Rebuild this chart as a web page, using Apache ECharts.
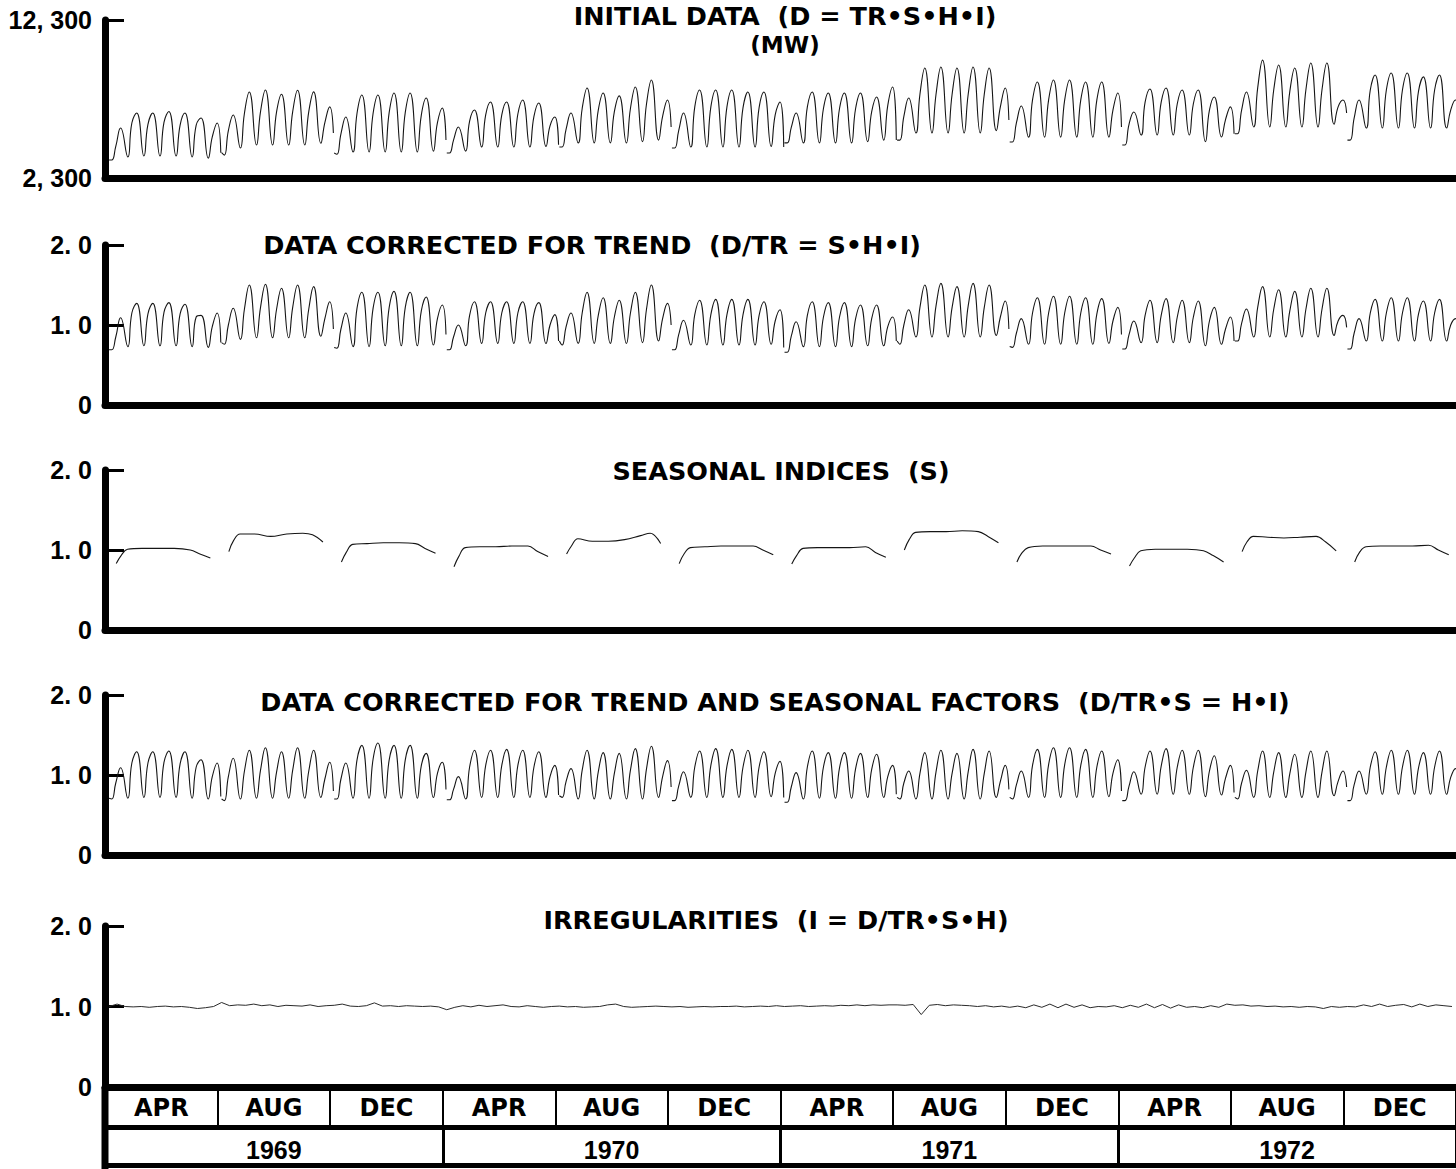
<!DOCTYPE html>
<html>
<head>
<meta charset="utf-8">
<script src="https://cdn.jsdelivr.net/npm/echarts@6/dist/echarts.min.js"></script>
<style>
  html, body { margin: 0; padding: 0; background: #fff; }
  #chart { width: 1456px; height: 1169px; }
</style>
</head>
<body>
<div id="chart"></div>
<script>
// ---- Sample weeks: one week of load per four-month period, 1969-1972 ----
// Each row is one week: [start, then (night low, midday level, evening peak) x 7 days, end]

// Initial data D, MW
const initialData = [
  [3440, 3440,4300,5460, 3630,5780,6410, 3690,5700,6410, 3690,5830,6510, 3690,5650,6410, 3630,5650,6100, 3560,4900,5780, 3900],
  [3900, 3750,5300,6290, 4200,6400,7740, 4390,6500,7870, 4390,6500,7600, 4390,6500,7850, 4390,6500,7750, 4500,5800,6800, 5150],
  [3880, 3800,5100,6160, 3950,6400,7550, 3950,6400,7550, 3950,6450,7680, 3950,6450,7680, 3950,6300,7360, 4000,5800,6730, 4700],
  [3880, 3880,4700,5530, 4000,5900,6600, 4260,6300,7110, 4260,6300,7110, 4260,6350,7240, 4260,6200,7050, 4300,5600,6160, 4400],
  [4260, 4260,5400,6410, 4520,6700,8000, 4520,6600,7680, 4520,6500,7500, 4520,6700,8060, 4600,7000,8500, 4700,6200,7240, 5530],
  [4200, 4200,5300,6410, 4260,6800,7870, 4260,6800,7870, 4260,6800,7870, 4260,6750,7740, 4260,6750,7740, 4300,6300,7110, 4260],
  [4520, 4520,5500,6410, 4520,6800,7740, 4520,6700,7680, 4520,6700,7680, 4520,6700,7680, 4600,6500,7430, 4700,6900,8060, 4700],
  [4700, 4700,6200,7360, 5150,7600,9260, 5150,7600,9330, 5150,7600,9260, 5150,7600,9330, 5150,7600,9260, 5300,6800,8000, 5970],
  [4580, 4580,5800,6860, 4890,7240,8380, 4890,7240,8500, 4890,7240,8500, 4890,7240,8380, 4890,7240,8380, 4890,6600,7680, 5530],
  [4390, 4390,5700,6480, 5020,7100,7930, 5020,7100,8000, 5020,7000,7870, 5020,7000,7870, 4600,6600,7430, 4900,6000,6800, 5100],
  [5100, 5100,6600,7740, 5530,8000,9760, 5530,7900,9450, 5530,7800,9260, 5530,7900,9580, 5530,7900,9580, 5700,6800,7240, 6410],
  [4700, 4700,6100,7240, 5460,7870,8820, 5460,7870,8950, 5460,7870,8950, 5460,7800,8700, 5460,7870,8820, 5460,6600,7240, 6500]
];

// Data corrected for trend, D/TR
const trendCorrected = [
  [0.69, 0.69,0.85,1.09, 0.73,1.15,1.27, 0.74,1.14,1.27, 0.74,1.16,1.28, 0.74,1.14,1.26, 0.73,1.1,1.12, 0.72,0.98,1.15, 0.78],
  [0.78, 0.76,1.0,1.21, 0.82,1.2,1.5, 0.84,1.22,1.51, 0.84,1.2,1.46, 0.84,1.22,1.5, 0.84,1.2,1.48, 0.86,1.08,1.29, 0.95],
  [0.72, 0.71,0.95,1.15, 0.73,1.21,1.41, 0.73,1.21,1.41, 0.74,1.22,1.42, 0.74,1.22,1.41, 0.74,1.18,1.35, 0.75,1.08,1.25, 0.88],
  [0.69, 0.69,0.85,1.0, 0.74,1.12,1.29, 0.77,1.15,1.29, 0.77,1.15,1.29, 0.77,1.15,1.29, 0.77,1.14,1.28, 0.77,1.0,1.13, 0.8],
  [0.8, 0.75,0.98,1.15, 0.77,1.15,1.41, 0.77,1.12,1.34, 0.77,1.1,1.31, 0.77,1.15,1.41, 0.78,1.2,1.5, 0.8,1.08,1.27, 1.0],
  [0.69, 0.69,0.88,1.06, 0.75,1.13,1.31, 0.75,1.13,1.32, 0.75,1.13,1.32, 0.75,1.13,1.32, 0.75,1.12,1.29, 0.76,1.05,1.19, 0.72],
  [0.66, 0.66,0.86,1.04, 0.73,1.12,1.29, 0.73,1.1,1.28, 0.73,1.1,1.28, 0.73,1.08,1.25, 0.74,1.08,1.25, 0.74,0.98,1.1, 0.8],
  [0.8, 0.76,1.0,1.19, 0.85,1.22,1.5, 0.85,1.24,1.52, 0.85,1.22,1.48, 0.85,1.24,1.52, 0.85,1.22,1.5, 0.87,1.1,1.3, 0.95],
  [0.73, 0.72,0.9,1.08, 0.76,1.15,1.34, 0.76,1.15,1.36, 0.76,1.15,1.36, 0.76,1.15,1.34, 0.76,1.14,1.33, 0.77,1.05,1.22, 0.88],
  [0.7, 0.7,0.88,1.05, 0.78,1.12,1.31, 0.78,1.12,1.33, 0.78,1.1,1.31, 0.78,1.1,1.3, 0.74,1.05,1.22, 0.76,0.95,1.1, 0.8],
  [0.8, 0.8,1.02,1.2, 0.85,1.22,1.48, 0.85,1.2,1.44, 0.85,1.18,1.42, 0.85,1.2,1.46, 0.85,1.2,1.46, 0.87,1.05,1.12, 0.97],
  [0.7, 0.7,0.9,1.08, 0.8,1.15,1.32, 0.8,1.15,1.34, 0.8,1.15,1.34, 0.8,1.14,1.3, 0.8,1.15,1.32, 0.8,1.0,1.08, 0.95]
];

// Seasonal indices S, nine readings across each week
const seasonalIndex = [
  [0.83, 0.93, 1.01, 1.02, 1.02, 1.02, 1.0, 0.95, 0.9],
  [0.98, 1.12, 1.2, 1.2, 1.17, 1.2, 1.21, 1.19, 1.1],
  [0.85, 0.97, 1.07, 1.08, 1.09, 1.09, 1.08, 1.02, 0.96],
  [0.79, 0.92, 1.03, 1.04, 1.04, 1.05, 1.05, 0.98, 0.92],
  [0.95, 1.05, 1.14, 1.11, 1.11, 1.13, 1.18, 1.21, 1.08],
  [0.83, 0.95, 1.03, 1.04, 1.05, 1.05, 1.05, 1.0, 0.94],
  [0.825, 0.93, 1.02, 1.03, 1.03, 1.03, 1.04, 0.97, 0.91],
  [1.0, 1.13, 1.22, 1.23, 1.23, 1.24, 1.23, 1.17, 1.09],
  [0.85, 0.96, 1.03, 1.05, 1.05, 1.05, 1.05, 1.0, 0.95],
  [0.8, 0.9, 0.99, 1.01, 1.01, 1.01, 0.99, 0.93, 0.85],
  [0.98, 1.1, 1.17, 1.16, 1.15, 1.16, 1.17, 1.1, 0.99],
  [0.85, 0.97, 1.04, 1.05, 1.05, 1.05, 1.06, 1.0, 0.94]
];

// Data corrected for trend and seasonal factors, D/TR*S
const trendSeasonCorrected = [
  [0.71, 0.7,0.9,1.09, 0.71,1.15,1.29, 0.72,1.15,1.29, 0.72,1.16,1.3, 0.72,1.14,1.29, 0.71,1.1,1.19, 0.7,0.98,1.15, 0.73],
  [0.7, 0.68,0.98,1.21, 0.7,1.05,1.31, 0.71,1.06,1.34, 0.71,1.04,1.29, 0.71,1.06,1.34, 0.71,1.05,1.31, 0.72,0.95,1.16, 0.8],
  [0.7, 0.7,0.95,1.15, 0.71,1.19,1.37, 0.71,1.2,1.4, 0.71,1.19,1.37, 0.71,1.19,1.37, 0.71,1.12,1.27, 0.72,1.02,1.16, 0.82],
  [0.69, 0.69,0.82,0.98, 0.7,1.1,1.31, 0.72,1.12,1.31, 0.72,1.12,1.32, 0.72,1.12,1.31, 0.72,1.1,1.29, 0.72,0.98,1.12, 0.75],
  [0.74, 0.72,0.92,1.08, 0.7,1.06,1.31, 0.7,1.04,1.28, 0.7,1.02,1.27, 0.7,1.06,1.33, 0.7,1.08,1.36, 0.72,0.98,1.18, 0.85],
  [0.68, 0.68,0.86,1.04, 0.72,1.1,1.3, 0.72,1.12,1.33, 0.72,1.11,1.32, 0.72,1.1,1.31, 0.72,1.1,1.29, 0.73,1.02,1.17, 0.72],
  [0.66, 0.66,0.85,1.03, 0.7,1.1,1.3, 0.71,1.1,1.28, 0.71,1.09,1.28, 0.71,1.08,1.27, 0.72,1.07,1.26, 0.72,0.98,1.12, 0.76],
  [0.72, 0.7,0.9,1.05, 0.7,1.02,1.28, 0.7,1.04,1.31, 0.7,1.02,1.27, 0.7,1.04,1.32, 0.7,1.02,1.3, 0.72,0.92,1.12, 0.82],
  [0.72, 0.7,0.88,1.05, 0.72,1.12,1.32, 0.72,1.13,1.34, 0.72,1.13,1.34, 0.72,1.12,1.32, 0.72,1.1,1.3, 0.73,1.02,1.19, 0.8],
  [0.68, 0.68,0.86,1.04, 0.76,1.1,1.3, 0.76,1.11,1.33, 0.76,1.1,1.31, 0.76,1.1,1.31, 0.73,1.05,1.24, 0.75,0.96,1.12, 0.78],
  [0.72, 0.7,0.9,1.06, 0.72,1.05,1.3, 0.72,1.04,1.28, 0.72,1.02,1.26, 0.72,1.04,1.3, 0.72,1.04,1.3, 0.74,0.92,1.05, 0.85],
  [0.68, 0.68,0.88,1.05, 0.76,1.1,1.29, 0.76,1.1,1.31, 0.76,1.1,1.31, 0.76,1.09,1.28, 0.76,1.1,1.3, 0.76,0.97,1.08, 0.9]
];

// Irregularities I, twice a day through each week
const irregular = [
  [1.0, 1.03, 1.0, 0.995, 1.0, 0.99, 1.0, 1.005, 0.995, 1.0, 0.99, 0.975, 0.985, 1.0],
  [1.05, 1.01, 1.02, 1.015, 1.03, 1.01, 1.02, 1.0, 1.015, 1.01, 1.005, 1.02, 1.0, 1.01],
  [1.015, 1.03, 1.005, 1.0, 1.01, 1.045, 1.005, 1.01, 1.0, 1.01, 1.005, 1.0, 1.005, 0.995],
  [0.96, 0.99, 1.01, 0.995, 1.015, 1.0, 1.01, 1.02, 1.0, 0.995, 1.01, 1.0, 0.99, 1.0],
  [1.005, 0.995, 1.0, 0.99, 0.995, 1.0, 1.02, 1.03, 1.0, 0.99, 0.995, 1.0, 1.005, 1.0],
  [0.995, 1.0, 0.99, 0.995, 1.0, 0.995, 1.0, 1.0, 1.005, 0.995, 1.0, 1.005, 1.0, 1.01],
  [1.0, 1.005, 1.01, 1.0, 1.005, 1.01, 1.005, 1.015, 1.01, 1.02, 1.01, 1.02, 1.015, 1.02],
  [1.02, 1.015, 1.025, 0.9, 1.015, 1.025, 1.01, 1.02, 1.015, 1.01, 1.0, 1.01, 0.995, 1.005],
  [0.99, 1.005, 0.985, 1.02, 0.99, 1.03, 0.985, 1.03, 0.99, 1.02, 0.985, 1.0, 0.995, 1.01],
  [0.985, 1.015, 0.99, 1.03, 0.985, 1.025, 0.98, 1.02, 0.99, 1.0, 0.985, 1.01, 0.99, 1.03],
  [1.015, 1.02, 1.005, 1.01, 1.0, 1.005, 0.995, 1.0, 0.99, 1.0, 0.995, 0.975, 1.0, 0.99],
  [1.0, 0.995, 1.02, 1.0, 1.03, 1.0, 1.015, 1.025, 0.995, 1.03, 1.0, 1.02, 1.01, 1.0]
];

// Axis labels
const monthLabels = ['APR', 'AUG', 'DEC'];
const yearLabels = ['1969', '1970', '1971', '1972'];
const loadTicks = [2300, 12300];
const loadTickLabels = ['2, 300', '12, 300'];
const ratioTicks = [0, 1, 2];
const ratioTickLabels = ['0', '1. 0', '2. 0'];

const panelTitles = [
  'INITIAL DATA  (D = TR\u2022S\u2022H\u2022I)',
  'DATA CORRECTED FOR TREND  (D/TR = S\u2022H\u2022I)',
  'SEASONAL INDICES  (S)',
  'DATA CORRECTED FOR TREND AND SEASONAL FACTORS  (D/TR\u2022S = H\u2022I)',
  'IRREGULARITIES  (I = D/TR\u2022S\u2022H)'
];
const unitLabel = '(MW)';

// ---- Layout ----
const GRID_LEFT = 105;
const GRID_RIGHT = -14;
const panels = [
  { top: 20, height: 158, titleX: 785, titleY: 16 },
  { top: 245, height: 160, titleX: 592, titleY: 245 },
  { top: 470, height: 160, titleX: 781, titleY: 471 },
  { top: 695, height: 160, titleX: 775, titleY: 702 },
  { top: 926, height: 161, titleX: 776, titleY: 920 }
];
const DAYS = 7;                       // one sample week per period
const PERIODS = yearLabels.length * monthLabels.length;
const WEEK_OFFSET = 0.25;             // week starts shortly after the period boundary
const DAY_POS = [0.17, 0.42, 0.72];   // night low, midday level, evening peak
const SEASON_POS = [0.7, 1.0, 1.4, 2.3, 3.3, 4.3, 5.3, 5.9, 6.55];
const INK = '#151515';
const NUM_FONT = 'Liberation Sans, Arial, sans-serif';
const WORD_FONT = 'DejaVu Sans, Verdana, sans-serif';

function weekSeries(rows, idx) {
  const data = [];
  rows.forEach((w, k) => {
    const origin = k * DAYS + WEEK_OFFSET;
    data.push([origin, w[0]]);
    for (let d = 0; d < DAYS; d++) {
      DAY_POS.forEach((p, j) => data.push([origin + d + p, w[1 + d * 3 + j]]));
    }
    data.push([origin + 6.95, w[22]]);
    data.push([origin + 6.97, '-']);
  });
  return {
    type: 'line', xAxisIndex: idx, yAxisIndex: idx, data,
    showSymbol: false, smooth: 0.5, connectNulls: false,
    lineStyle: { color: INK, width: 1.1 }, silent: true
  };
}

function seasonSeries(rows, idx) {
  const data = [];
  rows.forEach((s, k) => {
    s.forEach((v, i) => data.push([k * DAYS + SEASON_POS[i], v]));
    data.push([k * DAYS + 6.8, '-']);
  });
  return {
    type: 'line', xAxisIndex: idx, yAxisIndex: idx, data,
    showSymbol: false, smooth: 0.4, connectNulls: false,
    lineStyle: { color: INK, width: 1.1 }, silent: true
  };
}

function irregularSeries(rows, idx) {
  const data = [];
  rows.forEach((r, k) => {
    r.forEach((v, i) => data.push([k * DAYS + WEEK_OFFSET + i * 0.5, v]));
  });
  return {
    type: 'line', xAxisIndex: idx, yAxisIndex: idx, data,
    showSymbol: false, smooth: false,
    lineStyle: { color: '#2a2a2a', width: 1 }, silent: true
  };
}

const grids = panels.map(p => ({ left: GRID_LEFT, right: GRID_RIGHT, top: p.top, height: p.height }));

const valueXAxes = panels.map((p, i) => ({
  type: 'value', gridIndex: i, min: 0, max: PERIODS * DAYS,
  axisLine: { show: true, lineStyle: { color: '#000', width: 7 } },
  axisTick: { show: false }, axisLabel: { show: false }, splitLine: { show: false }
}));

const monthAxis = {
  type: 'category', gridIndex: 4, position: 'bottom', offset: 40,
  data: yearLabels.flatMap(() => monthLabels),
  axisLine: { show: true, lineStyle: { color: '#000', width: 5 } },
  axisTick: { show: true, inside: true, length: 40, interval: 0, lineStyle: { color: '#000', width: 2 } },
  axisLabel: { inside: true, interval: 0, margin: 7, color: '#000', fontFamily: WORD_FONT, fontWeight: 'bold', fontSize: 24 },
  splitLine: { show: false }
};
const yearAxis = {
  type: 'category', gridIndex: 4, position: 'bottom', offset: 78,
  data: yearLabels,
  axisLine: { show: true, lineStyle: { color: '#000', width: 5 } },
  axisTick: { show: true, inside: true, length: 38, interval: 0, lineStyle: { color: '#000', width: 3 } },
  axisLabel: { inside: true, interval: 0, margin: 3, color: '#000', fontFamily: NUM_FONT, fontWeight: 'bold', fontSize: 25 },
  splitLine: { show: false }
};

const labelStyle = { color: '#000', fontFamily: NUM_FONT, fontWeight: 'bold', fontSize: 25, margin: 13 };

const yAxes = panels.map((p, i) => {
  const isLoad = i === 0;
  const ticks = isLoad ? loadTicks : ratioTicks;
  const labels = isLoad ? loadTickLabels : ratioTickLabels;
  return {
    type: 'value', gridIndex: i,
    min: ticks[0], max: ticks[ticks.length - 1],
    axisLine: { show: true, lineStyle: { color: '#000', width: 7 } },
    axisTick: {
      show: true, inside: true, length: 19,
      customValues: isLoad ? [loadTicks[1]] : ratioTicks.slice(1),
      lineStyle: { color: '#000', width: 3 }
    },
    axisLabel: Object.assign({}, labelStyle, {
      customValues: ticks,
      formatter: v => labels[ticks.indexOf(v)] ?? ''
    }),
    splitLine: { show: false }
  };
});

const titleText = (text, x, y, size) => ({
  type: 'text', x, y, silent: true,
  style: {
    text, fill: '#000', align: 'center', verticalAlign: 'middle',
    font: 'bold ' + size + 'px ' + WORD_FONT
  }
});

const graphics = panels.map((p, i) => titleText(panelTitles[i], p.titleX, p.titleY, 25.5));
graphics.push(titleText(unitLabel, panels[0].titleX, 45, 23));
// left border of the period table continues the axis line downward
graphics.push({
  type: 'rect', silent: true,
  shape: { x: GRID_LEFT - 3.5, y: panels[4].top + panels[4].height, width: 7, height: 1169 - (panels[4].top + panels[4].height) },
  style: { fill: '#000' }
});

const chart = echarts.init(document.getElementById('chart'), null, { renderer: 'svg' });
chart.setOption({
  animation: false,
  backgroundColor: '#fff',
  grid: grids,
  xAxis: valueXAxes.concat([monthAxis, yearAxis]),
  yAxis: yAxes,
  graphic: graphics,
  series: [
    weekSeries(initialData, 0),
    weekSeries(trendCorrected, 1),
    seasonSeries(seasonalIndex, 2),
    weekSeries(trendSeasonCorrected, 3),
    irregularSeries(irregular, 4)
  ]
});
</script>
</body>
</html>
